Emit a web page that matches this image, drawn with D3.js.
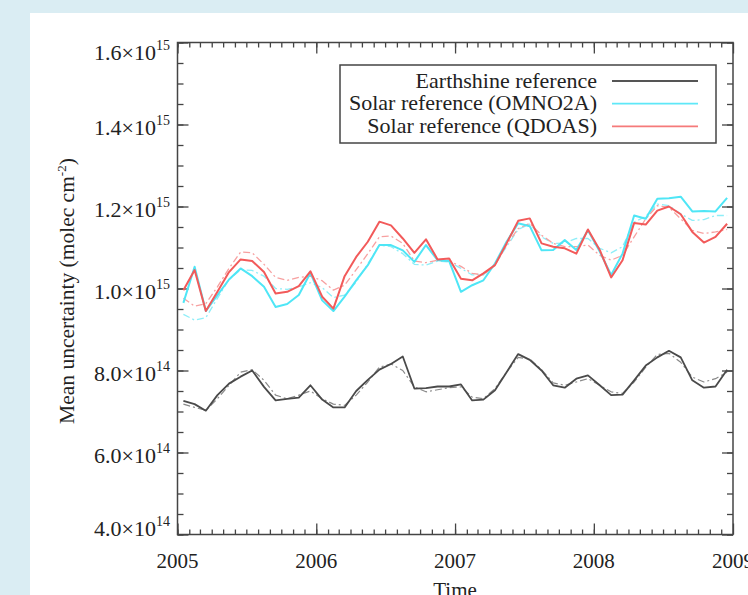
<!DOCTYPE html>
<html>
<head>
<meta charset="utf-8">
<script src="https://cdn.jsdelivr.net/npm/d3@7"></script>
<style>
  body { margin: 0; background: #daedf3; }
  svg { display: block; }
  text { font-family: "Liberation Serif", "Times New Roman", serif; fill: #222; }
</style>
</head>
<body>
<svg id="svg" width="748" height="595"></svg>
<script>
var width = 748;
var height = 595;

// values in units of 1e14 molec cm-2, one per month 2005-01 .. 2008-12
var earthshine = [7.26,7.18,7.02,7.40,7.68,7.85,8.00,7.60,7.27,7.31,7.34,7.64,
                  7.29,7.10,7.10,7.50,7.77,8.02,8.16,8.34,7.56,7.57,7.61,7.61,
                  7.66,7.27,7.29,7.52,7.96,8.40,8.26,8.00,7.64,7.58,7.80,7.88,
                  7.64,7.40,7.41,7.76,8.12,8.32,8.48,8.32,7.76,7.58,7.61,8.02];
var earthshineSmooth = [7.18,7.10,7.03,7.31,7.64,7.96,8.02,7.76,7.40,7.31,7.40,7.50,
                        7.31,7.18,7.15,7.40,7.72,8.08,8.16,8.00,7.60,7.48,7.53,7.58,
                        7.60,7.35,7.31,7.56,7.96,8.32,8.28,8.02,7.70,7.64,7.72,7.80,
                        7.64,7.48,7.44,7.72,8.08,8.39,8.42,8.20,7.84,7.72,7.80,7.96];
var omno2a = [9.65,10.53,9.45,9.84,10.22,10.49,10.30,10.04,9.55,9.62,9.84,10.38,
              9.71,9.45,9.80,10.20,10.57,11.06,11.06,10.93,10.65,11.06,10.69,10.67,
              9.92,10.08,10.20,10.61,11.14,11.59,11.52,10.93,10.94,11.18,10.94,11.42,
              10.90,10.33,10.85,11.78,11.70,12.19,12.20,12.24,11.88,11.89,11.88,12.21];
var omno2aSmooth = [9.37,9.23,9.29,9.76,10.22,10.46,10.44,10.30,10.00,9.98,10.04,10.14,
                    10.02,9.78,9.84,10.16,10.60,11.06,11.02,10.85,10.59,10.57,10.67,10.65,
                    10.49,10.33,10.33,10.59,11.02,11.44,11.57,11.26,11.10,11.11,11.22,11.22,
                    10.98,10.87,11.02,11.62,11.76,12.06,12.02,11.82,11.66,11.68,11.78,11.78];
var qdoas = [9.96,10.45,9.45,9.92,10.40,10.71,10.67,10.40,9.88,9.92,10.06,10.42,
             9.80,9.51,10.30,10.77,11.14,11.63,11.54,11.22,10.87,11.20,10.71,10.73,
             10.24,10.20,10.37,10.57,11.10,11.65,11.71,11.10,11.02,10.98,10.85,11.44,
             10.94,10.27,10.69,11.60,11.56,11.90,12.00,11.81,11.38,11.12,11.26,11.58];
var qdoasSmooth = [9.76,9.57,9.63,10.04,10.49,10.89,10.87,10.59,10.27,10.20,10.27,10.30,
                   10.19,9.96,10.08,10.46,10.85,11.26,11.28,11.10,10.67,10.63,10.69,10.67,
                   10.54,10.37,10.33,10.57,11.06,11.46,11.59,11.30,11.10,11.02,11.02,11.06,
                   10.81,10.69,10.81,11.26,11.70,12.02,11.98,11.70,11.42,11.34,11.38,11.44];

var yearTicks = [2005, 2006, 2007, 2008, 2009];
var yTicks = [4e14, 6e14, 8e14, 1e15, 1.2e15, 1.4e15, 1.6e15];
var legendNames = ['Earthshine reference', 'Solar reference (OMNO2A)', 'Solar reference (QDOAS)'];

var months = d3.timeMonth.range(new Date(2005, 0, 1), new Date(2009, 0, 1));
var midMonth = months.map(function(m){
    return new Date((m.getTime() + d3.timeMonth.offset(m, 1).getTime()) / 2);
});

var plotLeft = 177.5, plotRight = 733, plotTop = 42.5, plotBottom = 534.5;

var svg = d3.select('svg');

// white panel
svg.append('rect')
    .attr('x', 30).attr('y', 13)
    .attr('width', width - 30).attr('height', height - 13)
    .attr('fill', 'white');

var x = d3.scaleTime()
    .domain([new Date(2005, 0, 1), new Date(2009, 0, 1)])
    .range([plotLeft, plotRight]);

var y = d3.scaleLinear()
    .domain([4e14, 1.6e15])
    .range([plotBottom, plotTop]);

var yearDates = yearTicks.map(function(d){ return new Date(d, 0, 1); });
var minorY = d3.range(4e14, 1.6e15 + 1, 5e13);

function styleAxis(g) {
    g.select('.domain').remove();
    g.selectAll('line').attr('stroke', '#444').attr('stroke-width', 1.3);
    g.selectAll('text').remove();
}

// minor + major ticks on all four sides, pointing inward
svg.append('g').attr('transform', 'translate(0,' + plotBottom + ')')
    .call(d3.axisBottom(x).tickValues(months).tickSize(-5)).call(styleAxis);
svg.append('g').attr('transform', 'translate(0,' + plotBottom + ')')
    .call(d3.axisBottom(x).tickValues(yearDates).tickSize(-11)).call(styleAxis);
svg.append('g').attr('transform', 'translate(0,' + plotTop + ')')
    .call(d3.axisTop(x).tickValues(months).tickSize(-5)).call(styleAxis);
svg.append('g').attr('transform', 'translate(0,' + plotTop + ')')
    .call(d3.axisTop(x).tickValues(yearDates).tickSize(-11)).call(styleAxis);
svg.append('g').attr('transform', 'translate(' + plotLeft + ',0)')
    .call(d3.axisLeft(y).tickValues(minorY).tickSize(-6)).call(styleAxis);
svg.append('g').attr('transform', 'translate(' + plotLeft + ',0)')
    .call(d3.axisLeft(y).tickValues(yTicks).tickSize(-11)).call(styleAxis);
svg.append('g').attr('transform', 'translate(' + plotRight + ',0)')
    .call(d3.axisRight(y).tickValues(minorY).tickSize(-6)).call(styleAxis);
svg.append('g').attr('transform', 'translate(' + plotRight + ',0)')
    .call(d3.axisRight(y).tickValues(yTicks).tickSize(-11)).call(styleAxis);

// lines
var line = d3.line()
    .x(function(d, i){ return x(midMonth[i]); })
    .y(function(d){ return y(d * 1e14); });

var series = [
    {data: earthshineSmooth, color: '#8a8a8a', w: 1.2, dash: '7,3,2,3'},
    {data: omno2aSmooth, color: '#8eeef8', w: 1.3, dash: '7,3,2,3'},
    {data: qdoasSmooth, color: '#f7a0a0', w: 1.3, dash: '7,3,2,3'},
    {data: earthshine, color: '#4a4a4a', w: 1.8, dash: null},
    {data: omno2a, color: '#4fe6f6', w: 2, dash: null},
    {data: qdoas, color: '#f25a5a', w: 2, dash: null}
];

svg.selectAll('path.series')
    .data(series)
    .enter()
    .append('path')
    .attr('class', 'series')
    .attr('d', function(d){ return line(d.data); })
    .attr('fill', 'none')
    .attr('stroke', function(d){ return d.color; })
    .attr('stroke-width', function(d){ return d.w; })
    .attr('stroke-dasharray', function(d){ return d.dash; })
    .attr('stroke-linejoin', 'round');

// frame
svg.append('rect')
    .attr('x', plotLeft).attr('y', plotTop)
    .attr('width', plotRight - plotLeft).attr('height', plotBottom - plotTop)
    .attr('fill', 'none').attr('stroke', '#444').attr('stroke-width', 1.5);

// y tick labels
var yl = svg.selectAll('text.ylab')
    .data(yTicks)
    .enter()
    .append('text')
    .attr('class', 'ylab')
    .attr('x', 170)
    .attr('y', function(d, i){
        var off = 10;
        if (i === 0) off = 1;
        if (i === yTicks.length - 1) off = 17;
        return y(d) + off;
    })
    .attr('text-anchor', 'end')
    .style('font-size', '22px');
yl.append('tspan').text(function(d){
    var e = Math.floor(Math.log10(d) + 1e-9);
    return (d / Math.pow(10, e)).toFixed(1) + '\u00d710';
});
yl.append('tspan')
    .attr('dy', -10)
    .style('font-size', '14px')
    .text(function(d){ return Math.floor(Math.log10(d) + 1e-9); });

// x tick labels
svg.selectAll('text.xlab')
    .data(yearTicks)
    .enter()
    .append('text')
    .attr('class', 'xlab')
    .attr('x', function(d){ return x(new Date(d, 0, 1)); })
    .attr('y', 568)
    .attr('text-anchor', 'middle')
    .style('font-size', '21px')
    .text(function(d){ return d; });

svg.append('text')
    .attr('x', 455).attr('y', 597)
    .attr('text-anchor', 'middle')
    .style('font-size', '21px')
    .text('Time');

// y axis title
var yt = svg.append('text')
    .attr('transform', 'translate(74,291) rotate(-90)')
    .attr('text-anchor', 'middle')
    .style('font-size', '21.5px');
yt.append('tspan').text('Mean uncertainty (molec cm');
yt.append('tspan').attr('dy', -8).style('font-size', '13px').text('-2');
yt.append('tspan').attr('dy', 8).text(')');

// legend
var legend = svg.append('g');
legend.append('rect')
    .attr('x', 340).attr('y', 65)
    .attr('width', 376).attr('height', 78)
    .attr('fill', 'white').attr('stroke', '#444').attr('stroke-width', 1.5);

var legendColors = ['#555555', '#5ee8f8', '#f57a7a'];
legend.selectAll('text')
    .data(legendNames)
    .enter()
    .append('text')
    .attr('x', 597)
    .attr('y', function(d, i){ return 87.5 + i * 22.7; })
    .attr('text-anchor', 'end')
    .style('font-size', '22px')
    .text(function(d){ return d; });
legend.selectAll('line')
    .data(legendColors)
    .enter()
    .append('line')
    .attr('x1', 612).attr('x2', 698)
    .attr('y1', function(d, i){ return 81 + i * 22.7; })
    .attr('y2', function(d, i){ return 81 + i * 22.7; })
    .attr('stroke', function(d){ return d; })
    .attr('stroke-width', 1.8);
</script>
</body>
</html>
